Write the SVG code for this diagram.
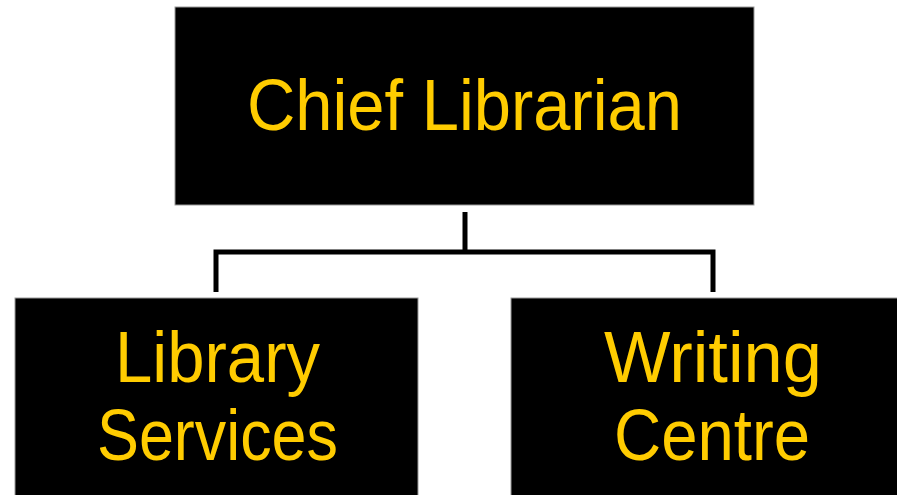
<svg xmlns="http://www.w3.org/2000/svg" width="897" height="495" viewBox="0 0 897 495">
<style>
.box{fill:#000;stroke:#9a9a9a;stroke-width:1}
.lbl{fill:#FFCC00;font-family:"Liberation Sans","Open Sans",Arial,sans-serif;font-size:72px}
.conn{fill:none;stroke:#000;stroke-width:5;stroke-linejoin:miter}
</style>
<rect width="897" height="495" fill="#fff"/>
<g id="connectors">
<path class="conn" d="M465,212 V252"/>
<path class="conn" d="M216,292 V252 H713 V292"/>
</g>
<g id="chief">
<rect class="box" x="175" y="7" width="579" height="198"/>
<text class="lbl" x="247" y="130" textLength="435" lengthAdjust="spacingAndGlyphs">Chief Librarian</text>
</g>
<g id="library">
<rect class="box" x="15" y="298" width="403" height="200"/>
<text class="lbl" x="115" y="382" textLength="205" lengthAdjust="spacingAndGlyphs">Library</text>
<text class="lbl" x="97" y="460" textLength="241" lengthAdjust="spacingAndGlyphs">Services</text>
</g>
<g id="writing">
<rect class="box" x="511" y="298" width="390" height="200"/>
<text class="lbl" x="604" y="382" textLength="218" lengthAdjust="spacingAndGlyphs">Writing</text>
<text class="lbl" x="614" y="460" textLength="196" lengthAdjust="spacingAndGlyphs">Centre</text>
</g>
</svg>
